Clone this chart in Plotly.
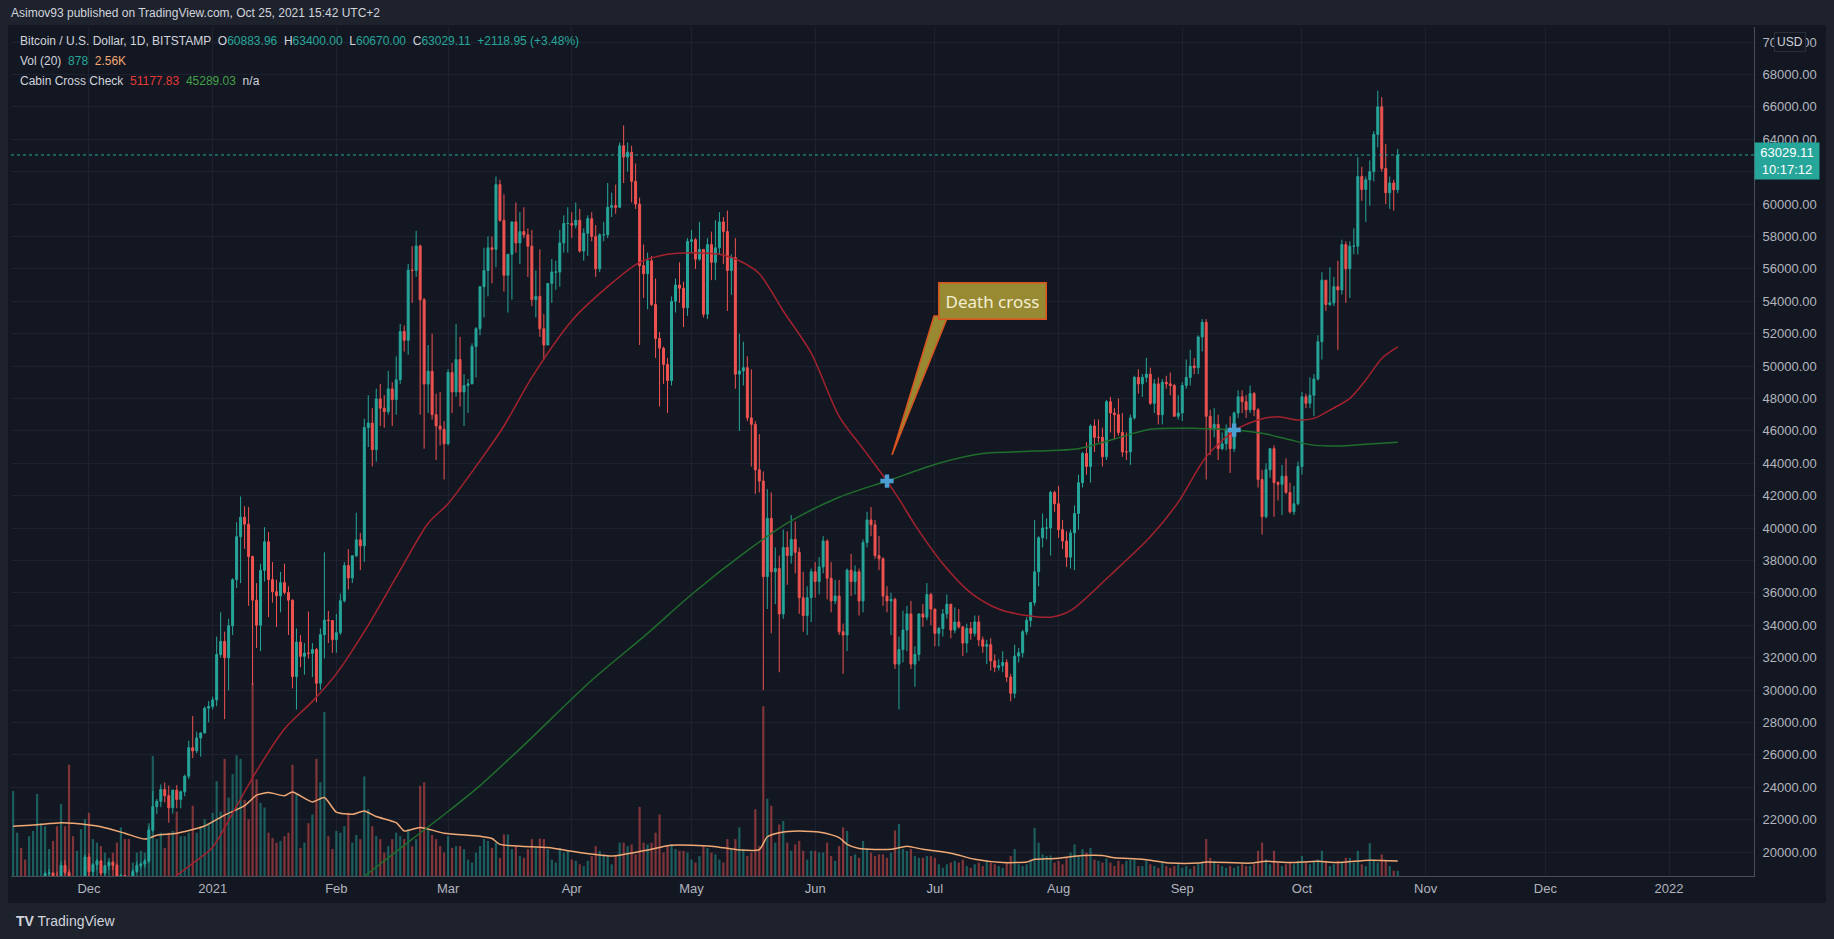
import pandas as pd
import plotly.graph_objects as go

# daily candles, Bitstamp BTC/USD, 2020-11-12 .. 2021-10-25
dates = pd.date_range("2020-11-12", "2021-10-25", freq="D")
first_open = 15700

close = [
    # Nov 12-30
    16300, 16330, 16070, 15960, 16730, 17680, 17790, 17820, 18680, 18710, 18430, 18380, 19170, 18740, 17150, 17140, 17730, 18180, 19700,
    # Dec
    18790, 19220, 19450, 18700, 19150, 19370, 19180, 18320, 18550, 18250, 18030, 18800, 19170, 19270, 19440, 21350,
    22800, 23130, 23860, 23480, 22730, 23820, 23250, 23720, 24680, 26440, 26250, 27040, 27350, 28880, 28990,
    # Jan
    29390, 32190, 33000, 31990, 33970, 36810, 39470, 40670, 40240, 38240, 35550, 34000, 37390, 39150, 36820, 36070,
    35820, 36630, 36020, 35550, 30830, 32960, 32080, 32280, 32270, 32500, 30420, 33420, 34320, 34290, 33110,
    # Feb
    33540, 35510, 37680, 36920, 38290, 39270, 38900, 46200, 46480, 44840, 47970, 47400, 47180, 48590, 47930, 49150,
    52130, 51590, 55920, 55900, 57410, 54090, 48890, 49680, 47000, 46300, 46100, 45200,
    # Mar
    49600, 48400, 50400, 48400, 48800, 48900, 51200, 52300, 54900, 55900, 57300, 57200, 61200, 59000, 55600, 56900,
    58900, 57600, 58300, 58100, 57400, 54100, 54300, 52300, 51300, 55100, 55800, 55800, 57600, 58800, 58800,
    # Apr
    58700, 59000, 57100, 58200, 59100, 58000, 56000, 58100, 58100, 59800, 59900, 59800, 63600, 62900, 63200, 61400,
    60000, 56200, 55700, 56500, 53800, 51700, 51100, 50100, 49100, 54000, 55000, 54800, 53600, 57700,
    # May
    57800, 56600, 57200, 53200, 57500, 56400, 57300, 58900, 58300, 55900, 56700, 49500, 49700, 49900, 46800, 46400,
    43600, 42900, 37000, 40600, 37300, 37500, 34700, 38800, 38300, 39300, 38500, 35700, 34600, 35700, 37300,
    # Jun
    36700, 37600, 39200, 36900, 35500, 35800, 33600, 33400, 37400, 36700, 37300, 35500, 39100, 40500, 40200, 38300,
    38100, 35800, 35500, 35600, 31600, 32500, 33700, 34700, 31600, 32200, 34700, 34500, 35900, 35000,
    # Jul
    33500, 33800, 34700, 35300, 33700, 34200, 33900, 32900, 33800, 33500, 34200, 33100, 32700, 32800, 31800, 31400,
    31500, 31700, 30800, 29800, 32100, 32300, 33600, 34300, 35400, 37300, 39400, 40000, 40000, 42200, 41500,
    # Aug
    39900, 39200, 38200, 39700, 40900, 42800, 44600, 43800, 46300, 45600, 45600, 44400, 47800, 47100, 47000, 45900,
    44700, 44700, 46800, 49300, 48900, 49300, 49500, 47700, 48900, 47000, 49000, 48900, 48800, 46900, 47100,
    # Sep
    48800, 49300, 50000, 49900, 51800, 52700, 46900, 46100, 46400, 44900, 45200, 46100, 44900, 47100, 48100, 47800,
    47300, 48300, 47300, 43000, 40700, 43600, 44900, 42800, 42700, 43200, 42200, 41000, 41500, 43800,
    # Oct 1-25
    48100, 47700, 48200, 49200, 51500, 55300, 53800, 53900, 54900, 54700, 57500, 56000, 57400, 57400, 61700, 60900,
    61500, 62000, 64300, 66000, 62200, 60700, 61300, 60884, 63029.11,
]

high = [
    16480, 16480, 16330, 16140, 16880, 17860, 18490, 18120, 18800, 18960, 18720, 18780, 19420, 19490, 18920, 17470, 17880, 18340, 19860,
    19920, 19310, 19560, 19520, 19180, 19420, 19430, 19280, 18640, 18560, 18290, 18940, 19410, 19340, 19570, 21560,
    23770, 23280, 24170, 24290, 24100, 23850, 24130, 23800, 24780, 26870, 28400, 27430, 27400, 28990, 29320,
    29600, 33300, 34800, 33600, 34400, 36900, 40360, 41950, 41350, 41300, 38300, 36600, 37800, 40050, 39750, 37900,
    36800, 37300, 37800, 36400, 35600, 33800, 33400, 32900, 34850, 32900, 32600, 33800, 38500, 34880, 34300,
    34700, 35950, 37900, 38700, 38300, 40950, 39700, 46750, 48200, 47400, 48600, 48900, 48200, 49700, 49000, 50600,
    52600, 52500, 56300, 57400, 58350, 57500, 54200, 51300, 52000, 48300, 48400, 46600,
    49800, 50200, 52600, 51800, 49500, 49200, 51400, 52400, 54900, 57300, 58000, 58000, 61700, 61500, 60600, 56900,
    58900, 60100, 59500, 59800, 58500, 58400, 55900, 57200, 53200, 55100, 56600, 56500, 58400, 59300, 59800,
    59500, 60100, 59700, 58500, 59300, 59500, 58700, 58200, 58900, 61300, 60700, 61200, 63800, 64850, 63800, 63600,
    62500, 60400, 57500, 57000, 56800, 55400, 52100, 51200, 50500, 54300, 55400, 56400, 55200, 57900,
    58400, 57900, 58900, 57200, 57900, 58300, 59000, 59500, 59200, 59600, 56900, 57900, 52000, 51500, 50600, 49800,
    46600, 45800, 43500, 42400, 42200, 38800, 38300, 39900, 39800, 40800, 40400, 38800, 37300, 36400, 37500,
    37900, 38200, 39500, 39300, 37900, 36800, 36800, 34100, 37500, 38400, 37700, 37500, 39300, 41000, 41300, 40500,
    39500, 38200, 36400, 36000, 35700, 33300, 34900, 35200, 35500, 32700, 34700, 35300, 36600, 36000,
    35000, 33900, 35000, 35900, 35300, 35100, 35000, 33900, 34100, 34200, 34600, 34600, 33300, 33100, 33200, 32200,
    31900, 32400, 31900, 31000, 32800, 32600, 33700, 34500, 35400, 40500, 39500, 40900, 40600, 42300, 42300,
    42600, 40500, 39800, 39900, 41400, 43300, 44700, 45300, 46400, 46700, 46700, 46200, 47900, 48100, 47400, 48000,
    47100, 45900, 47000, 49400, 49800, 49500, 50500, 49900, 49200, 49300, 49200, 49400, 49600, 48900, 48200,
    49000, 50400, 51000, 50500, 51900, 52900, 52900, 47300, 47400, 47000, 45900, 46400, 46900, 47200, 48500, 48500,
    48200, 48800, 48400, 47400, 43600, 44000, 44900, 45100, 42900, 43900, 44300, 42800, 42600, 44100,
    48400, 48300, 49300, 49500, 51900, 55800, 55300, 56100, 55500, 56500, 57800, 57700, 57700, 58500, 62900, 62300,
    61700, 62700, 64500, 67000, 66600, 63700, 61700, 61500, 63400,
]

low = [
    15420, 15960, 15710, 15860, 15880, 16560, 17220, 17350, 17760, 18330, 17640, 18010, 18080, 18570, 16330, 16450, 16880, 17520, 18180,
    18110, 18340, 18900, 18580, 18520, 18880, 18900, 18200, 17650, 17910, 17570, 18000, 18720, 19000, 19050, 19290,
    21230, 22350, 22770, 23060, 21810, 22370, 22700, 22700, 23440, 24500, 25800, 26100, 25890, 27330, 28000,
    28800, 29000, 32000, 28200, 29970, 33400, 36300, 36600, 38720, 35200, 30300, 32600, 32400, 36700, 34500, 35400,
    33900, 34800, 35900, 33400, 30100, 28800, 31400, 30950, 31950, 30800, 29250, 30000, 31950, 32900, 32300,
    32300, 33400, 35400, 36200, 36600, 38200, 37400, 37900, 45000, 43800, 44100, 46300, 46200, 47000, 46300, 47000,
    48900, 50900, 50700, 53900, 55500, 47000, 44900, 47100, 46700, 44200, 45100, 43000,
    45100, 47100, 48100, 47500, 46300, 47100, 48900, 49300, 51900, 53000, 54300, 55100, 56100, 58900, 54600, 53300,
    54100, 57000, 56300, 57900, 55500, 53700, 53000, 51800, 50400, 51300, 53900, 54700, 54900, 57000, 57000,
    57900, 58500, 57000, 56500, 56800, 57700, 55500, 55800, 57700, 57900, 59200, 59400, 59800, 61300, 62000, 60100,
    59700, 51300, 54200, 53500, 53700, 50500, 47500, 48900, 47100, 48800, 53300, 53900, 52400, 53100,
    57000, 56000, 56500, 53000, 52900, 55300, 55300, 56900, 56300, 53400, 54400, 48600, 46000, 48800, 46600, 43800,
    42100, 42200, 30000, 35000, 33500, 35300, 31100, 34400, 36500, 37800, 37200, 34700, 33600, 33400, 34200,
    35700, 35900, 37200, 35600, 34800, 35300, 33400, 31000, 32400, 35800, 35900, 34600, 34800, 38800, 39500, 38100,
    37400, 35200, 34800, 33400, 31300, 28800, 31700, 32400, 31300, 30200, 31800, 33900, 34300, 34000,
    32700, 32700, 33300, 34400, 33200, 33500, 33800, 32100, 32300, 33100, 33300, 32700, 32300, 31600, 31200, 31100,
    31200, 31100, 30500, 29300, 29500, 31700, 32000, 33400, 33900, 35200, 36400, 38800, 39300, 38300, 41000,
    39400, 38700, 37600, 37500, 37400, 39900, 42500, 43300, 42800, 44700, 45300, 43800, 44200, 45900, 45500, 45700,
    44400, 44200, 43900, 46700, 48300, 48100, 49000, 47600, 47100, 46400, 46400, 48600, 48200, 46900, 46700,
    46600, 48600, 48800, 49500, 49500, 50900, 43000, 44500, 45600, 44200, 44800, 44800, 43400, 44700, 46800, 47100,
    46800, 47100, 46900, 42500, 39600, 40600, 43100, 40700, 41700, 40800, 42100, 40900, 40800, 41400,
    43300, 47400, 47400, 46900, 49100, 50400, 53400, 53700, 53700, 51000, 54400, 53900, 54200, 56900, 56900, 60200,
    58900, 59900, 61400, 63500, 62000, 60000, 59700, 59600, 60670,
]

# volume, thousands of BTC
volume_k = [
    14.5, 7.4, 4.8, 2.8, 6.8, 7.7, 14.0, 9.0, 8.5, 4.6, 6.0, 8.5, 12.3, 8.5, 19.0, 6.8, 4.3, 8.0, 9.7,
    10.8, 6.3, 5.7, 5.1, 4.0, 3.1, 4.0, 5.7, 8.3, 6.3, 6.3, 2.3, 4.0, 4.3, 4.0, 9.0, 20.5, 6.3, 7.4, 4.8, 7.4, 7.7,
    11.0, 6.8, 6.8, 7.4, 12.0, 7.4, 8.5, 9.7, 9.0,
    10.8, 16.2, 11.0, 20.0, 13.4, 17.4, 20.6, 20.0, 13.0, 9.7, 33.0, 16.5, 12.5, 11.7, 7.4, 6.5, 5.7, 6.0, 6.8, 7.4,
    19.0, 14.0, 4.8, 5.7, 9.0, 10.5, 20.0, 16.0, 28.0, 6.8, 4.6,
    7.7, 7.4, 8.5, 10.8, 5.7, 7.0, 6.3, 17.0, 11.4, 8.5, 6.8, 6.3, 4.0, 5.1, 6.3, 7.4, 6.8, 6.3, 8.0, 5.1,
    6.3, 15.4, 16.0, 8.0, 7.0, 6.3, 5.1, 4.0,
    6.8, 4.8, 5.1, 5.1, 4.6, 2.8, 2.3, 4.0, 5.1, 6.3, 6.0, 4.8, 5.7, 3.1, 7.1, 7.1, 4.6, 5.1, 3.4, 3.1,
    4.6, 6.3, 4.8, 6.4, 6.3, 4.6, 2.8, 2.3, 4.8, 4.0, 4.3,
    2.8, 2.6, 2.0, 1.7, 2.6, 3.4, 5.1, 4.3, 3.7, 3.4, 2.0, 3.4, 5.7, 5.7, 5.1, 5.4, 3.7, 11.8, 5.7, 5.4,
    5.7, 7.4, 10.5, 4.0, 5.1, 5.4, 4.6, 4.3, 4.3, 4.0,
    2.8, 2.3, 3.4, 5.1, 4.8, 4.0, 3.7, 2.8, 2.3, 6.3, 4.6, 6.3, 8.3, 4.6, 3.4, 4.0, 11.4, 5.1, 29.0, 13.2,
    12.0, 5.7, 8.8, 9.4, 5.7, 4.3, 5.4, 6.0, 4.3, 2.8, 4.3,
    4.3, 4.0, 4.0, 5.7, 3.4, 2.6, 5.1, 8.3, 7.7, 3.4, 3.7, 3.1, 6.0, 4.8, 4.0, 3.4, 3.7, 3.7, 3.1, 4.0,
    7.8, 8.9, 4.6, 4.3, 4.6, 3.4, 3.1, 3.1, 3.4, 3.4,
    3.1, 2.0, 1.4, 2.0, 2.3, 2.6, 2.3, 2.8, 1.7, 1.4, 2.0, 2.3, 1.7, 2.6, 2.3, 2.0, 1.7, 1.4, 2.3, 3.4,
    4.6, 2.0, 1.7, 2.0, 2.8, 8.2, 5.7, 3.7, 3.4, 3.5, 2.3,
    2.6, 2.0, 3.1, 4.0, 5.4, 3.4, 4.6, 4.0, 4.8, 2.8, 2.6, 2.3, 3.0, 2.3, 1.7, 2.6, 2.0, 2.6, 2.8, 2.8,
    1.7, 1.7, 2.6, 2.0, 1.7, 1.4, 2.3, 1.7, 1.4, 1.7, 2.0,
    1.4, 1.7, 1.2, 1.7, 2.0, 2.3, 6.3, 3.1, 2.6, 2.0, 1.7, 1.4, 1.7, 1.4, 1.7, 2.0, 1.7, 1.7, 2.0, 4.3,
    5.7, 2.8, 2.0, 4.3, 2.3, 1.7, 2.0, 2.3, 2.0, 2.6,
    3.4, 2.3, 2.0, 2.6, 2.8, 4.3, 2.6, 1.7, 2.0, 2.6, 2.3, 3.1, 3.1, 2.3, 4.3, 2.0, 1.7, 5.6, 2.8, 2.3,
    3.7, 2.6, 1.7, 0.9, 0.878,
]

# Vol (20) average
volma_dates = ["2020-11-12", "2020-11-17", "2020-11-24", "2020-11-27", "2020-12-04", "2020-12-10", "2020-12-15",
               "2020-12-18", "2020-12-23", "2020-12-30", "2021-01-04", "2021-01-09", "2021-01-12", "2021-01-15",
               "2021-01-19", "2021-01-21", "2021-01-26", "2021-01-29", "2021-02-01", "2021-02-05", "2021-02-08",
               "2021-02-11", "2021-02-16", "2021-02-18", "2021-02-22", "2021-02-28", "2021-03-09", "2021-03-12",
               "2021-03-14", "2021-03-26", "2021-04-03", "2021-04-11", "2021-04-19", "2021-04-26", "2021-05-06",
               "2021-05-13", "2021-05-18", "2021-05-20", "2021-05-23", "2021-05-28", "2021-06-03", "2021-06-07",
               "2021-06-09", "2021-06-12", "2021-06-20", "2021-06-24", "2021-06-28", "2021-07-05", "2021-07-11",
               "2021-07-18", "2021-07-24", "2021-07-26", "2021-07-31", "2021-08-07", "2021-08-12", "2021-08-15",
               "2021-08-22", "2021-08-29", "2021-09-05", "2021-09-07", "2021-09-18", "2021-09-22", "2021-09-28",
               "2021-10-05", "2021-10-10", "2021-10-18", "2021-10-25"]
volma_k = [8.5, 8.7, 9.1, 9.0, 8.4, 7.3, 6.3, 6.95, 7.3, 8.55, 10.4, 12.0, 13.8, 14.25, 13.7, 14.35, 12.65, 13.4,
           10.9, 10.55, 11.1, 10.15, 9.1, 7.7, 8.3, 7.3, 6.8, 6.4, 5.4, 4.85, 4.0, 3.4, 4.3, 5.25, 5.1, 4.45, 4.5,
           6.7, 7.4, 7.7, 7.4, 6.55, 5.4, 4.7, 4.55, 5.1, 4.55, 3.9, 2.85, 2.3, 2.4, 2.85, 3.0, 3.5, 3.5, 3.1,
           2.85, 2.2, 2.2, 2.4, 2.2, 2.5, 2.3, 2.5, 2.3, 2.7, 2.56]

# Cabin Cross Check: fast (red) and slow (green) averages
fast_dates = ["2020-12-20", "2020-12-27", "2021-01-01", "2021-01-06", "2021-01-12", "2021-01-19", "2021-01-26",
              "2021-02-01", "2021-02-08", "2021-02-17", "2021-02-24", "2021-03-01", "2021-03-10", "2021-03-15",
              "2021-03-22", "2021-04-01", "2021-04-10", "2021-04-18", "2021-04-25", "2021-05-01", "2021-05-08",
              "2021-05-13", "2021-05-18", "2021-05-24", "2021-05-31", "2021-06-07", "2021-06-13", "2021-06-19",
              "2021-06-22", "2021-06-26", "2021-07-03", "2021-07-10", "2021-07-17", "2021-07-24", "2021-07-30",
              "2021-08-04", "2021-08-14", "2021-08-24", "2021-08-31", "2021-09-07", "2021-09-14", "2021-09-20",
              "2021-09-25", "2021-09-30", "2021-10-04", "2021-10-08", "2021-10-13", "2021-10-17", "2021-10-21",
              "2021-10-25"]
fast_ma = [18000, 19300, 20300, 22400, 25000, 27600, 29300, 31000, 33600, 37400, 40300, 41500, 44500, 46300,
           49300, 52800, 54900, 56400, 56900, 57000, 56900, 56500, 55700, 53400, 50800, 46900, 44900, 42900,
           41800, 40200, 37800, 36000, 35000, 34600, 34500, 34900, 37100, 39460, 41600, 44400, 46000, 46670,
           46870, 46670, 46770, 47280, 48000, 49140, 50470, 51177.83]

slow_dates = ["2021-02-01", "2021-02-08", "2021-02-20", "2021-03-01", "2021-03-09", "2021-03-20", "2021-04-06",
              "2021-04-20", "2021-05-01", "2021-05-15", "2021-05-25", "2021-06-07", "2021-06-19", "2021-07-02",
              "2021-07-13", "2021-07-26", "2021-08-06", "2021-08-15", "2021-08-24", "2021-09-05", "2021-09-14",
              "2021-09-22", "2021-09-28", "2021-10-03", "2021-10-10", "2021-10-17", "2021-10-25"]
slow_ma = [17200, 18500, 20800, 22500, 24100, 26600, 30600, 33500, 35900, 38600, 40300, 41900, 42900, 44000,
           44600, 44750, 44900, 45500, 46100, 46150, 46050, 45800, 45450, 45150, 45060, 45180, 45289.03]

cross_dates = ["2021-06-19", "2021-09-14"]
cross_prices = [42900, 46050]

month_ticks = ["2020-12-01", "2021-01-01", "2021-02-01", "2021-03-01", "2021-04-01", "2021-05-01", "2021-06-01",
               "2021-07-01", "2021-08-01", "2021-09-01", "2021-10-01", "2021-11-01", "2021-12-01", "2022-01-01"]
month_labels = ["Dec", "2021", "Feb", "Mar", "Apr", "May", "Jun", "Jul", "Aug", "Sep", "Oct", "Nov", "Dec", "2022"]

opens = [first_open] + close[:-1]

UP = "#26a69a"
DOWN = "#ef5350"
GRID = "#1e2230"
TXT = "#b2b5be"
FONT = "Liberation Sans, Arial, sans-serif"

W, H = 1834, 939
ML, MR, MT, MB = 11, 80, 27, 63


def px_x(p):
    return (p - ML) / (W - ML - MR)


def px_y(p):
    return (H - MB - p) / (H - MT - MB)


vol_colors = ["rgba(38,166,154,0.5)" if c >= o else "rgba(239,83,80,0.5)" for o, c in zip(opens, close)]

fig = go.Figure()

fig.add_trace(go.Bar(x=dates, y=volume_k, marker_color=vol_colors, marker_line_width=0,
                     yaxis="y", hoverinfo="skip"))
fig.add_trace(go.Scatter(x=volma_dates, y=volma_k, mode="lines", yaxis="y",
                         line=dict(color="#f0a875", width=1.5, shape="spline", smoothing=0.6),
                         hoverinfo="skip"))

fig.add_trace(go.Candlestick(
    x=dates, open=opens, high=high, low=low, close=close, yaxis="y2",
    increasing=dict(line=dict(color=UP, width=1), fillcolor=UP),
    decreasing=dict(line=dict(color=DOWN, width=1), fillcolor=DOWN),
    whiskerwidth=0,
))

fig.add_trace(go.Scatter(x=fast_dates, y=fast_ma, mode="lines", yaxis="y2",
                         line=dict(color="#a3222e", width=1.5, shape="spline", smoothing=0.8)))
fig.add_trace(go.Scatter(x=slow_dates, y=slow_ma, mode="lines", yaxis="y2",
                         line=dict(color="#1f6e2c", width=1.5, shape="spline", smoothing=0.8)))
fig.add_trace(go.Scatter(x=cross_dates, y=cross_prices, mode="markers", yaxis="y2",
                         marker=dict(symbol="cross", size=11, color="#4a9fd4", line=dict(width=0))))

teal = "<span style='color:#26a69a'>%s</span>"
sp = "&nbsp;&nbsp;"
legend1 = ("Bitcoin / U.S. Dollar, 1D, BITSTAMP" + sp + "O" + teal % "60883.96" + sp + "H" + teal % "63400.00"
           + sp + "L" + teal % "60670.00" + sp + "C" + teal % "63029.11" + sp + teal % "+2118.95 (+3.48%)")
legend2 = "Vol (20)" + sp + teal % "878" + sp + "<span style='color:#f0a875'>2.56K</span>"
legend3 = ("Cabin Cross Check" + sp + "<span style='color:#e53935'>51177.83</span>" + sp
           + "<span style='color:#43a047'>45289.03</span>" + sp + "n/a")

notes = [
    dict(x=px_x(9), y=px_y(13), text="Asimov93 published on TradingView.com, Oct 25, 2021 15:42 UTC+2",
         font=dict(size=12, color="#d1d4dc")),
    dict(x=px_x(18), y=px_y(41), text=legend1, font=dict(size=12, color="#d1d4dc")),
    dict(x=px_x(18), y=px_y(61), text=legend2, font=dict(size=12, color="#d1d4dc")),
    dict(x=px_x(18), y=px_y(81), text=legend3, font=dict(size=12, color="#d1d4dc")),
    dict(x=px_x(14), y=px_y(921), text="<b>TV</b> TradingView", font=dict(size=14, color="#d1d4dc")),
]
annotations = []
for n in notes:
    annotations.append(dict(xref="paper", yref="paper", xanchor="left", yanchor="middle",
                            showarrow=False, **n))

annotations.append(dict(xref="paper", yref="paper", x=px_x(992), y=px_y(301), text="Death cross",
                        xanchor="center", yanchor="middle",
                        showarrow=False, bgcolor="#978a32", bordercolor="#d9531e", borderwidth=1.5,
                        borderpad=6, font=dict(family="Noto Sans", size=17, color="#f3eed2")))
annotations.append(dict(xref="paper", yref="paper", x=px_x(1790), y=px_y(42), text="USD",
                        xanchor="center", yanchor="middle",
                        showarrow=False, bgcolor="#131722", bordercolor="#2a2e39", borderwidth=1,
                        borderpad=2, font=dict(size=12, color="#d1d4dc")))
annotations.append(dict(xref="paper", yref="y2", x=1, y=close[-1], xanchor="left", yanchor="middle",
                        yshift=-6, text="%.2f<br>10:17:12" % close[-1], showarrow=False, align="center",
                        bgcolor=UP, width=60, borderpad=2, font=dict(size=13, color="#ffffff")))

wedge = "M %f %f L %f %f L %f %f Z" % (px_x(934), px_y(316), px_x(948), px_y(316), px_x(892), px_y(455))

shapes = [
    dict(type="rect", xref="paper", yref="paper", x0=px_x(8), x1=px_x(1826), y0=px_y(903), y1=px_y(25),
         fillcolor="#131722", line=dict(width=0), layer="below"),
    dict(type="line", xref="paper", yref="y2", x0=0, x1=1, y0=close[-1], y1=close[-1],
         line=dict(color=UP, width=1, dash="dot")),
    dict(type="path", xref="paper", yref="paper", path=wedge, fillcolor="#978a32",
         line=dict(color="#d9531e", width=1.5)),
]

fig.update_layout(
    width=W, height=H,
    margin=dict(l=ML, r=MR, t=MT, b=MB),
    paper_bgcolor="#1e222d",
    plot_bgcolor="#131722",
    showlegend=False,
    bargap=0.45,
    font=dict(family=FONT, color=TXT, size=13),
    annotations=annotations,
    shapes=shapes,
    xaxis=dict(type="date", range=["2020-11-11 11:00", "2022-01-22 07:00"],
               tickvals=month_ticks, ticktext=month_labels, ticks="",
               showgrid=True, gridcolor=GRID, zeroline=False,
               showline=True, linecolor="#4a4e5a", rangeslider=dict(visible=False),
               tickfont=dict(size=13, color=TXT)),
    yaxis=dict(range=[0, 145], visible=False, fixedrange=True),
    yaxis2=dict(overlaying="y", side="right", range=[18520, 70930], tick0=0, dtick=2000,
                tickformat=".2f", showgrid=True, gridcolor=GRID, zeroline=False,
                showline=True, linecolor="#4a4e5a", ticks="", ticklabelstandoff=5,
                tickfont=dict(size=13, color=TXT)),
)

fig.write_html("out.html", config={"displayModeBar": False},
               post_script="document.body.style.margin='0px';")
